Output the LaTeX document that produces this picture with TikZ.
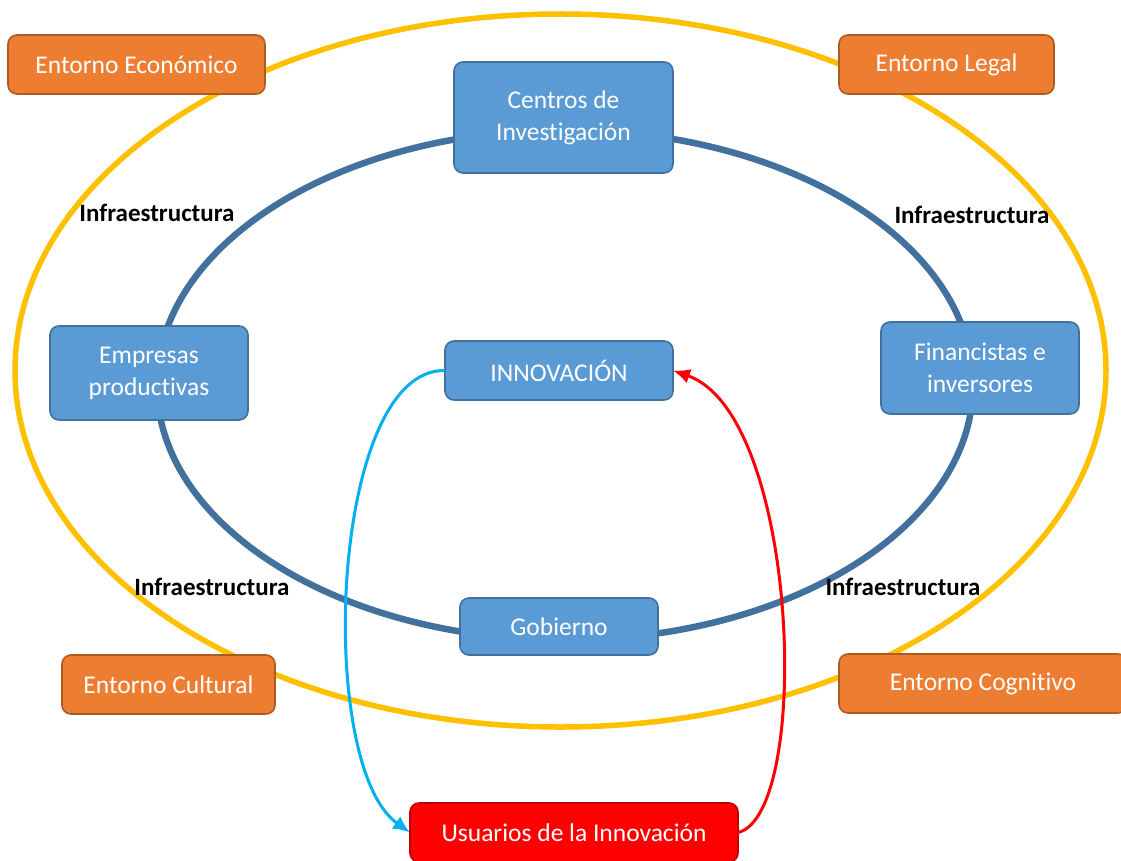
\documentclass[tikz,border=0pt]{standalone}
\usepackage{fontspec}
\setmainfont{Carlito}[Ligatures=NoCommon]
\usetikzlibrary{arrows.meta}
\definecolor{orangef}{HTML}{ED7D31}
\definecolor{oranged}{HTML}{AE5A21}
\definecolor{bluef}{HTML}{5B9BD5}
\definecolor{blued}{HTML}{41719C}
\definecolor{ringblue}{HTML}{41719C}
\definecolor{ringyellow}{HTML}{FFC000}
\definecolor{arrowcyan}{HTML}{00B0F0}
\definecolor{redf}{HTML}{FF0000}
\definecolor{redd}{HTML}{C00000}
\tikzset{
  box/.style={rounded corners=9pt, line width=1.6pt, inner sep=0pt, outer sep=0pt,
    align=center, text=white, font=\fontsize{25.5}{32}\selectfont},
  envbox/.style={box, fill=orangef, draw=oranged},
  actbox/.style={box, fill=bluef, draw=blued},
  userbox/.style={box, fill=redf, draw=redd},
  lab/.style={font=\fontsize{25}{30}\selectfont\bfseries, text=black, inner sep=0pt},
  link/.style={line width=3pt, -{Latex[length=17pt,width=15pt]}}
}
\begin{document}
\begin{tikzpicture}[x=1pt,y=-1pt]
\useasboundingbox (0,0) rectangle (1121,861);
\fill[white] (0,0) rectangle (1121,861);
% rings
\draw[ringyellow, line width=5.5pt] (560.5,370.5) ellipse [x radius=545.5, y radius=356.5];
\draw[ringblue, line width=6.5pt] (565,385) ellipse [x radius=408, y radius=255];
% labels
\node[lab] (i1) at (157,213) {Infraestructura};
\node[lab] (i2) at (972,215) {Infraestructura};
\node[lab] (i3) at (212,587) {Infraestructura};
\node[lab] (i4) at (903,587) {Infraestructura};
% environment boxes
\node[envbox, minimum width=257pt, minimum height=59pt] (econ) at (136.5,64.5) {Entorno Económico};
\node[envbox, minimum width=215pt, minimum height=59pt] (legal) at (946.5,64.5) {Entorno Legal};
\node[envbox, minimum width=213pt, minimum height=59pt] (cult) at (168.5,684.5) {Entorno Cultural};
\node[envbox, minimum width=288pt, minimum height=59pt] (cogn) at (983,683.5) {Entorno Cognitivo};
% actors
\node[actbox, minimum width=219pt, minimum height=111pt] (centros) at (563.5,117.5) {Centros de\\Investigación};
\node[actbox, minimum width=198pt, minimum height=94pt] (empresas) at (149,373) {Empresas\\productivas};
\node[actbox, minimum width=198pt, minimum height=92pt] (finan) at (980,368) {Financistas e\\inversores};
\node[actbox, minimum width=228pt, minimum height=59pt] (innov) at (559,370.5) {INNOVACIÓN};
\node[actbox, minimum width=198pt, minimum height=57pt] (gob) at (559,626.5) {Gobierno};
\node[userbox, minimum width=328pt, minimum height=59pt] (usu) at (574,832.5) {Usuarios de la Innovación};
% arrows
\draw[link, arrowcyan] (innov.west) .. controls (330,368) and (315,765) .. (usu.west);
\draw[link, redf] (usu.east) .. controls (812,815) and (800,415) .. (innov.east);
\end{tikzpicture}
\end{document}
